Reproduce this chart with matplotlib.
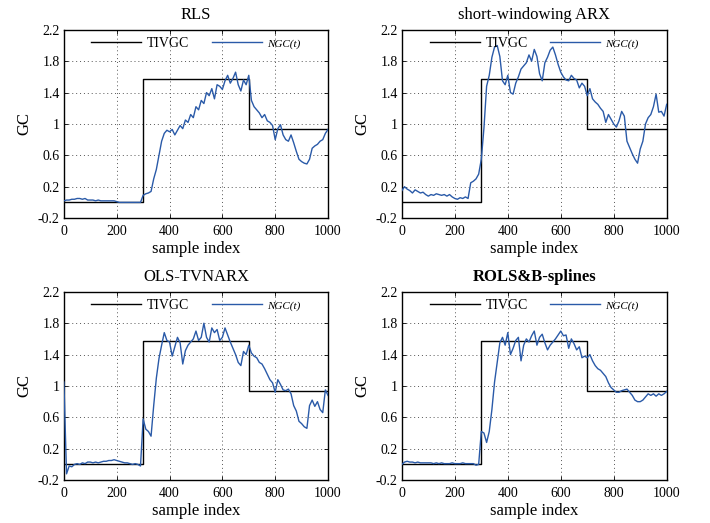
"""GC estimates vs true time-varying GC (TIVGC) for four estimators, 2x2 grid."""
import numpy as np
import matplotlib
matplotlib.use("Agg")
import matplotlib.pyplot as plt

plt.rcParams["font.family"] = ["Liberation Serif", "DejaVu Serif"]

# ---- data (one value every 10 samples) ----
sample_idx = np.arange(0, 1001, 10)

tivgc_edges = [0, 300, 700, 1000]
tivgc_levels = [0.0, 1.57, 0.93]

ngc_rls = [
    0.02, 0.03, 0.03, 0.04, 0.04, 0.05, 0.05, 0.04, 0.05, 0.03,
    0.03, 0.03, 0.02, 0.03, 0.02, 0.02, 0.02, 0.02, 0.02, 0.02,
    0.01, 0.00, 0.00, 0.00, 0.00, 0.00, 0.00, 0.00, 0.00, 0.00,
    0.09, 0.11, 0.12, 0.14, 0.30, 0.42, 0.60, 0.78, 0.88, 0.92,
    0.90, 0.93, 0.86, 0.92, 0.98, 0.94, 1.05, 1.02, 1.12, 1.08,
    1.22, 1.18, 1.30, 1.26, 1.40, 1.36, 1.45, 1.32, 1.50, 1.48,
    1.44, 1.55, 1.62, 1.52, 1.58, 1.66, 1.50, 1.42, 1.56, 1.50,
    1.62, 1.30, 1.22, 1.18, 1.14, 1.08, 1.12, 1.04, 1.02, 0.98,
    0.80, 0.94, 0.99, 0.86, 0.80, 0.78, 0.86, 0.76, 0.65, 0.55,
    0.52, 0.50, 0.49, 0.55, 0.69, 0.72, 0.74, 0.78, 0.80, 0.88, 0.93,
]
ngc_arx = [
    0.15, 0.20, 0.17, 0.15, 0.12, 0.16, 0.14, 0.12, 0.13, 0.10,
    0.08, 0.10, 0.09, 0.11, 0.10, 0.09, 0.10, 0.08, 0.10, 0.07,
    0.05, 0.04, 0.06, 0.05, 0.07, 0.05, 0.25, 0.27, 0.30, 0.36,
    0.55, 0.95, 1.48, 1.62, 1.85, 1.98, 2.00, 1.86, 1.55, 1.50,
    1.62, 1.40, 1.38, 1.52, 1.60, 1.70, 1.74, 1.78, 1.88, 1.80,
    1.95, 1.86, 1.64, 1.55, 1.78, 1.85, 1.94, 1.98, 1.88, 1.76,
    1.66, 1.60, 1.56, 1.55, 1.62, 1.58, 1.56, 1.46, 1.52, 1.48,
    1.36, 1.45, 1.32, 1.28, 1.25, 1.20, 1.16, 1.02, 1.12, 1.06,
    1.00, 0.96, 1.04, 1.16, 1.10, 0.78, 0.70, 0.62, 0.55, 0.50,
    0.68, 0.78, 1.00, 1.08, 1.12, 1.22, 1.38, 1.15, 1.16, 1.10, 1.25,
]
ngc_ols = [
    1.05, -0.12, -0.02, -0.03, 0.00, 0.01, 0.00, 0.02, 0.01, 0.03,
    0.03, 0.02, 0.03, 0.02, 0.03, 0.04, 0.04, 0.05, 0.05, 0.06,
    0.05, 0.04, 0.03, 0.02, 0.02, 0.01, 0.00, 0.01, 0.00, -0.02,
    0.58, 0.45, 0.42, 0.36, 0.75, 1.10, 1.35, 1.52, 1.68, 1.58,
    1.56, 1.38, 1.50, 1.62, 1.55, 1.28, 1.45, 1.52, 1.56, 1.60,
    1.70, 1.58, 1.62, 1.80, 1.62, 1.56, 1.74, 1.68, 1.72, 1.58,
    1.62, 1.74, 1.65, 1.56, 1.48, 1.40, 1.30, 1.26, 1.44, 1.40,
    1.52, 1.42, 1.38, 1.36, 1.30, 1.28, 1.22, 1.15, 1.08, 1.04,
    0.92, 1.08, 1.02, 0.95, 0.94, 0.96, 0.90, 0.75, 0.68, 0.55,
    0.52, 0.48, 0.46, 0.75, 0.82, 0.74, 0.80, 0.70, 0.66, 0.95, 0.88,
]
ngc_rols = [
    0.00, 0.03, 0.04, 0.03, 0.03, 0.02, 0.03, 0.02, 0.02, 0.02,
    0.02, 0.02, 0.01, 0.02, 0.01, 0.02, 0.01, 0.01, 0.01, 0.02,
    0.01, 0.01, 0.01, 0.02, 0.01, 0.01, 0.01, 0.01, -0.01, 0.00,
    0.42, 0.40, 0.28, 0.42, 0.70, 1.05, 1.30, 1.55, 1.62, 1.52,
    1.68, 1.40, 1.48, 1.58, 1.62, 1.32, 1.52, 1.60, 1.56, 1.64,
    1.70, 1.52, 1.62, 1.66, 1.55, 1.46, 1.52, 1.56, 1.60, 1.65,
    1.70, 1.64, 1.65, 1.48, 1.60, 1.54, 1.46, 1.50, 1.36, 1.38,
    1.36, 1.40, 1.32, 1.26, 1.22, 1.20, 1.16, 1.12, 1.04, 0.98,
    0.95, 0.92, 0.92, 0.94, 0.95, 0.96, 0.92, 0.88, 0.82, 0.80,
    0.80, 0.82, 0.86, 0.90, 0.88, 0.90, 0.87, 0.90, 0.88, 0.90, 0.93,
]

panel_titles = ["RLS", "short-windowing ARX", "OLS-TVNARX", "ROLS&B-splines"]
panel_series = [ngc_rls, ngc_arx, ngc_ols, ngc_rols]

x_ticks = [0, 200, 400, 600, 800, 1000]
y_ticks = [-0.2, 0.2, 0.6, 1.0, 1.4, 1.8, 2.2]
y_ticklabels = ["-0.2", "0.2", "0.6", "1", "1.4", "1.8", "2.2"]

# ---- layout / style ----
AX_POS = [
    [0.090, 0.583, 0.372, 0.360],
    [0.566, 0.583, 0.373, 0.360],
    [0.090, 0.082, 0.372, 0.360],
    [0.566, 0.082, 0.373, 0.360],
]
BLUE = "#2a5aa8"


def draw_panel(ax, title, ngc, bold=False):
    stair_x = np.repeat(tivgc_edges, 2)[1:-1]
    stair_y = np.repeat(tivgc_levels, 2)
    ax.plot(stair_x, stair_y, color="black", lw=1.0, label="TIVGC", zorder=3)
    ax.plot(sample_idx, ngc, color=BLUE, lw=1.0, label="NGC(t)", zorder=4)

    ax.set_xlim(0, 1000)
    ax.set_ylim(-0.2, 2.2)
    ax.set_xticks(x_ticks)
    ax.set_yticks(y_ticks)
    ax.set_yticklabels(y_ticklabels)
    ax.tick_params(direction="in", length=3, width=0.6, top=True, right=True,
                   labelsize=10)
    ax.tick_params(axis="x", pad=5)
    ax.tick_params(axis="y", pad=3)
    ax.grid(True, ls=(0, (1, 3)), color="#555555", lw=0.7)
    for s in ax.spines.values():
        s.set_linewidth(1.0)

    ax.set_title(title, fontsize=12, pad=8,
                 fontweight="bold" if bold else "normal")
    ax.set_xlabel("sample index", fontsize=12, labelpad=2)
    ax.set_ylabel("GC", fontsize=12, labelpad=4)

    leg = ax.legend(loc="upper center", ncol=2, frameon=False, fontsize=10,
                    handlelength=3.6, columnspacing=1.6, handletextpad=0.4,
                    borderaxespad=0.1)
    leg.get_texts()[1].set_fontstyle("italic")
    leg.get_texts()[1].set_fontsize(8)


fig = plt.figure(figsize=(7.1, 5.23), dpi=100, facecolor="white")
for pos, title, ngc in zip(AX_POS, panel_titles, panel_series):
    ax = fig.add_axes(pos)
    draw_panel(ax, title, ngc, bold=(title == "ROLS&B-splines"))

fig.savefig("out.png", dpi=100, facecolor="white")
